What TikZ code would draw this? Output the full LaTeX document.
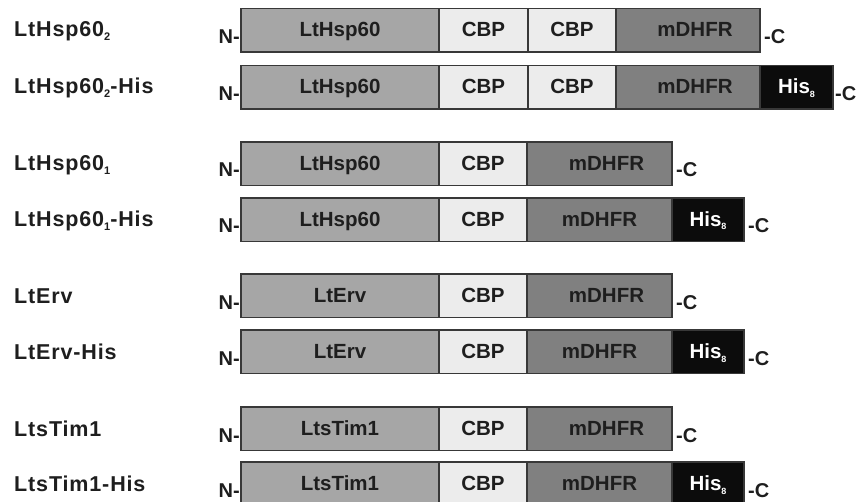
\documentclass[tikz,border=0pt]{standalone}
\usepackage{fontspec}
\setmainfont{Liberation Sans}
\newfontfamily\labelfont{Liberation Sans}[LetterSpace=4]

\definecolor{hspgrey}{HTML}{A6A6A6}
\definecolor{cbpgrey}{HTML}{ECECEC}
\definecolor{dhfrgrey}{HTML}{808080}
\definecolor{hisblack}{HTML}{0C0C0C}
\definecolor{edge}{HTML}{383838}
\definecolor{ink}{HTML}{1E1E1E}

% lowered index in a smaller size
\newcommand\lowidx[3]{{\fontsize{#1}{#1}\selectfont\raisebox{-#2pt}{#3}}}

\tikzset{
  segbox/.style={draw=edge, line width=1.3pt, minimum height=43.5pt,
    inner sep=0pt, outer sep=0pt, anchor=north west},
  hsp/.style={segbox, fill=hspgrey},
  cbp/.style={segbox, fill=cbpgrey},
  dhfr/.style={segbox, fill=dhfrgrey},
  his/.style={segbox, fill=hisblack},
  segtext/.style={inner sep=0pt, anchor=base, text=ink,
    font=\bfseries\fontsize{20.5}{24}\selectfont},
  histext/.style={segtext, text=white},
  rowlabel/.style={inner sep=0pt, anchor=base west, text=ink,
    font=\labelfont\bfseries\fontsize{21.5}{25}\selectfont},
  endlabel/.style={inner sep=0pt, text=ink,
    font=\bfseries\fontsize{20}{24}\selectfont},
}

% one coloured segment of a construct: name, style, left x, right x, top y, text, text shift
\newcommand\segment[7]{%
  \node[#2, minimum width={#4-#3}] (#1) at (#3,#5) {};
  \node[segtext] (#1-t) at ({(#3+#4)/2+#7},{#5+28.5}) {#6};
}
\newcommand\hissub{His\lowidx{9}{3.5}{8}}

\begin{document}
\begin{tikzpicture}[x=1pt, y=-1pt]
\useasboundingbox (0,0) rectangle (858,502);
\begin{scope}
\clip (0,0) rectangle (858,502);

% ---- LtHsp60_2 ----
\node[rowlabel] (l1) at (14,37) {LtHsp60\lowidx{11}{4}{2}};
\segment{r1a}{hsp}{241}{439}{8.5}{LtHsp60}{0}
\segment{r1b}{cbp}{439}{528}{8.5}{CBP}{0}
\segment{r1c}{cbp}{528}{616}{8.5}{CBP}{0}
\segment{r1d}{dhfr}{616}{760}{8.5}{mDHFR}{7}
\node[endlabel, anchor=base east] (n1) at (240,43.5) {N-};
\node[endlabel, anchor=base west] (c1) at (764,43.5) {-C};

% ---- LtHsp60_2-His ----
\node[rowlabel] (l2) at (14,94) {LtHsp60\lowidx{11}{4}{2}-His};
\segment{r2a}{hsp}{241}{439}{65.5}{LtHsp60}{0}
\segment{r2b}{cbp}{439}{528}{65.5}{CBP}{0}
\segment{r2c}{cbp}{528}{616}{65.5}{CBP}{0}
\segment{r2d}{dhfr}{616}{760}{65.5}{mDHFR}{7}
\node[his, minimum width=73] (r2e) at (760,65.5) {};
\node[histext] (r2e-t) at (796.5,94) {\hissub};
\node[endlabel, anchor=base east] (n2) at (240,100.5) {N-};
\node[endlabel, anchor=base west] (c2) at (835,100.5) {-C};

% ---- LtHsp60_1 ----
\node[rowlabel] (l3) at (14,170.5) {LtHsp60\lowidx{11}{4}{1}};
\segment{r3a}{hsp}{241}{439}{142}{LtHsp60}{0}
\segment{r3b}{cbp}{439}{527}{142}{CBP}{0}
\segment{r3c}{dhfr}{527}{672}{142}{mDHFR}{7}
\node[endlabel, anchor=base east] (n3) at (240,177) {N-};
\node[endlabel, anchor=base west] (c3) at (676,177) {-C};

% ---- LtHsp60_1-His ----
\node[rowlabel] (l4) at (14,226.5) {LtHsp60\lowidx{11}{4}{1}-His};
\segment{r4a}{hsp}{241}{439}{198}{LtHsp60}{0}
\segment{r4b}{cbp}{439}{527}{198}{CBP}{0}
\segment{r4c}{dhfr}{527}{672}{198}{mDHFR}{0}
\node[his, minimum width=72] (r4d) at (672,198) {};
\node[histext] (r4d-t) at (708,226.5) {\hissub};
\node[endlabel, anchor=base east] (n4) at (240,233) {N-};
\node[endlabel, anchor=base west] (c4) at (748,233) {-C};

% ---- LtErv ----
\node[rowlabel] (l5) at (14,303.5) {LtErv};
\segment{r5a}{hsp}{241}{439}{274}{LtErv}{0}
\segment{r5b}{cbp}{439}{527}{274}{CBP}{0}
\segment{r5c}{dhfr}{527}{672}{274}{mDHFR}{7}
\node[endlabel, anchor=base east] (n5) at (240,309) {N-};
\node[endlabel, anchor=base west] (c5) at (676,309) {-C};

% ---- LtErv-His ----
\node[rowlabel] (l6) at (14,359.5) {LtErv-His};
\segment{r6a}{hsp}{241}{439}{330}{LtErv}{0}
\segment{r6b}{cbp}{439}{527}{330}{CBP}{0}
\segment{r6c}{dhfr}{527}{672}{330}{mDHFR}{0}
\node[his, minimum width=72] (r6d) at (672,330) {};
\node[histext] (r6d-t) at (708,358.5) {\hissub};
\node[endlabel, anchor=base east] (n6) at (240,365) {N-};
\node[endlabel, anchor=base west] (c6) at (748,365) {-C};

% ---- LtsTim1 ----
\node[rowlabel] (l7) at (14,436) {LtsTim1};
\segment{r7a}{hsp}{241}{439}{407}{LtsTim1}{0}
\segment{r7b}{cbp}{439}{527}{407}{CBP}{0}
\segment{r7c}{dhfr}{527}{672}{407}{mDHFR}{7}
\node[endlabel, anchor=base east] (n7) at (240,442) {N-};
\node[endlabel, anchor=base west] (c7) at (676,442) {-C};

% ---- LtsTim1-His ----
\node[rowlabel] (l8) at (14,491) {LtsTim1-His};
\segment{r8a}{hsp}{241}{439}{462}{LtsTim1}{0}
\segment{r8b}{cbp}{439}{527}{462}{CBP}{0}
\segment{r8c}{dhfr}{527}{672}{462}{mDHFR}{0}
\node[his, minimum width=72] (r8d) at (672,462) {};
\node[histext] (r8d-t) at (708,490.5) {\hissub};
\node[endlabel, anchor=base east] (n8) at (240,497) {N-};
\node[endlabel, anchor=base west] (c8) at (748,497) {-C};
\end{scope}
\end{tikzpicture}
\end{document}
